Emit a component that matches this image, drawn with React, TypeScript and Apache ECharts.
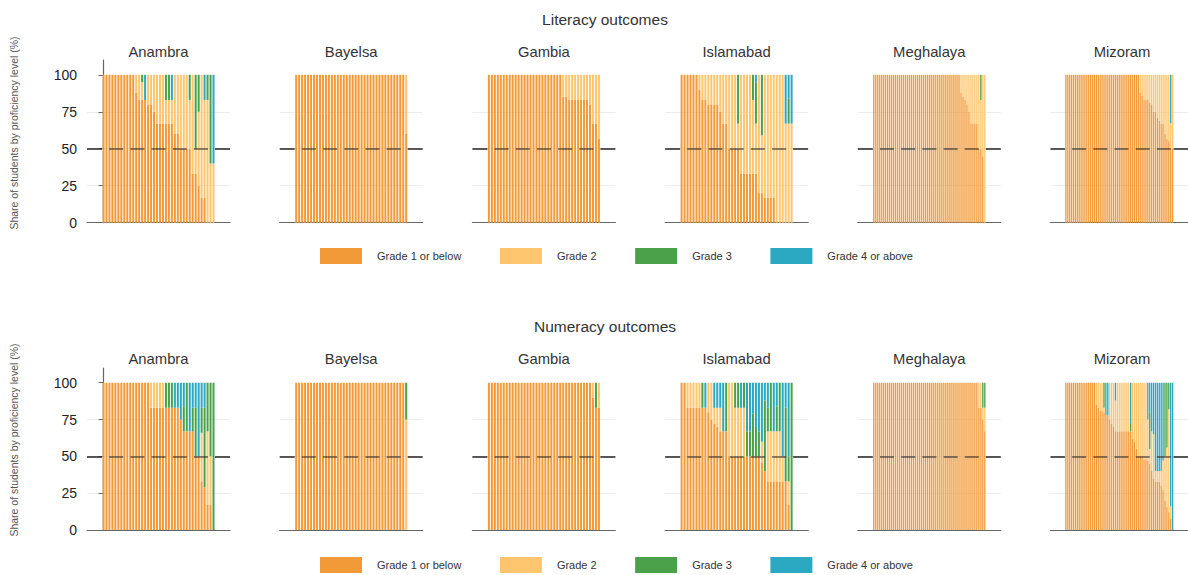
import React, { useEffect, useRef } from 'react';
import * as echarts from 'echarts';

// ---- labels, colours, scale ----
const GRADES = ['Grade 1 or below', 'Grade 2', 'Grade 3', 'Grade 4 or above'];
const GRADE_COLORS = ['#F29A38', '#FDC66E', '#4AA14A', '#2BA8C2'];
const REGIONS = ['Anambra', 'Bayelsa', 'Gambia', 'Islamabad', 'Meghalaya', 'Mizoram'];
const ROW_TITLES = ['Literacy outcomes', 'Numeracy outcomes'];
const Y_AXIS_TITLE = 'Share of students by proficiency level (%)';
const Y_TICKS = [0, 25, 50, 75, 100];
const THRESHOLD = 50;

// ---- literacy: share of students at each level, one value per school ----
const litAnambraG1 = [
  100, 100, 100, 100, 100, 100, 100, 100, 100, 100,
  100, 88, 83, 83, 83, 80, 80, 75, 67, 67,
  67, 67, 67, 67, 60, 60, 50, 50, 50, 50,
  33, 33, 25, 17, 17, 0, 0, 0];
const litAnambraG2 = [
  0, 0, 0, 0, 0, 0, 0, 0, 0, 0,
  0, 12, 17, 12, 0, 20, 20, 25, 33, 33,
  33, 16, 16, 16, 40, 40, 50, 50, 50, 33,
  67, 17, 50, 83, 66, 83, 40, 40];
const litAnambraG3 = [
  0, 0, 0, 0, 0, 0, 0, 0, 0, 0,
  0, 0, 0, 5, 0, 0, 0, 0, 0, 0,
  0, 17, 17, 0, 0, 0, 0, 0, 0, 17,
  0, 50, 25, 0, 0, 17, 60, 0];
const litAnambraG4 = [
  0, 0, 0, 0, 0, 0, 0, 0, 0, 0,
  0, 0, 0, 0, 17, 0, 0, 0, 0, 0,
  0, 0, 0, 17, 0, 0, 0, 0, 0, 0,
  0, 0, 0, 0, 17, 0, 0, 60];

const litBayelsaG1 = [
  100, 100, 100, 100, 100, 100, 100, 100, 100, 100,
  100, 100, 100, 100, 100, 100, 100, 100, 100, 100,
  100, 100, 100, 100, 100, 100, 100, 100, 100, 100,
  100, 100, 100, 100, 100, 100, 100, 60];
const litBayelsaG2 = [
  0, 0, 0, 0, 0, 0, 0, 0, 0, 0,
  0, 0, 0, 0, 0, 0, 0, 0, 0, 0,
  0, 0, 0, 0, 0, 0, 0, 0, 0, 0,
  0, 0, 0, 0, 0, 0, 0, 40];
const litBayelsaG3 = [
  0, 0, 0, 0, 0, 0, 0, 0, 0, 0,
  0, 0, 0, 0, 0, 0, 0, 0, 0, 0,
  0, 0, 0, 0, 0, 0, 0, 0, 0, 0,
  0, 0, 0, 0, 0, 0, 0, 0];
const litBayelsaG4 = [
  0, 0, 0, 0, 0, 0, 0, 0, 0, 0,
  0, 0, 0, 0, 0, 0, 0, 0, 0, 0,
  0, 0, 0, 0, 0, 0, 0, 0, 0, 0,
  0, 0, 0, 0, 0, 0, 0, 0];

const litGambiaG1 = [
  100, 100, 100, 100, 100, 100, 100, 100, 100, 100,
  100, 100, 100, 100, 100, 100, 100, 100, 100, 100,
  100, 100, 100, 100, 100, 85, 85, 83, 83, 83,
  83, 83, 83, 83, 80, 67, 67, 57];
const litGambiaG2 = [
  0, 0, 0, 0, 0, 0, 0, 0, 0, 0,
  0, 0, 0, 0, 0, 0, 0, 0, 0, 0,
  0, 0, 0, 0, 0, 15, 15, 17, 17, 17,
  17, 17, 17, 17, 20, 33, 33, 43];
const litGambiaG3 = [
  0, 0, 0, 0, 0, 0, 0, 0, 0, 0,
  0, 0, 0, 0, 0, 0, 0, 0, 0, 0,
  0, 0, 0, 0, 0, 0, 0, 0, 0, 0,
  0, 0, 0, 0, 0, 0, 0, 0];
const litGambiaG4 = [
  0, 0, 0, 0, 0, 0, 0, 0, 0, 0,
  0, 0, 0, 0, 0, 0, 0, 0, 0, 0,
  0, 0, 0, 0, 0, 0, 0, 0, 0, 0,
  0, 0, 0, 0, 0, 0, 0, 0];

const litIslamabadG1 = [
  100, 100, 100, 100, 100, 100, 90, 83, 83, 80,
  80, 80, 80, 75, 67, 67, 50, 50, 50, 50,
  33, 33, 33, 33, 33, 33, 20, 20, 17, 17,
  17, 17, 0, 0, 0, 0, 0, 0];
const litIslamabadG2 = [
  0, 0, 0, 0, 0, 0, 10, 17, 17, 20,
  20, 20, 20, 25, 33, 33, 50, 50, 50, 17,
  67, 67, 67, 67, 50, 34, 80, 39, 83, 83,
  83, 83, 100, 100, 100, 67, 67, 67];
const litIslamabadG3 = [
  0, 0, 0, 0, 0, 0, 0, 0, 0, 0,
  0, 0, 0, 0, 0, 0, 0, 0, 0, 33,
  0, 0, 0, 0, 17, 28, 0, 41, 0, 0,
  0, 0, 0, 0, 0, 0, 17, 0];
const litIslamabadG4 = [
  0, 0, 0, 0, 0, 0, 0, 0, 0, 0,
  0, 0, 0, 0, 0, 0, 0, 0, 0, 0,
  0, 0, 0, 0, 0, 5, 0, 0, 0, 0,
  0, 0, 0, 0, 0, 33, 16, 33];

const litMeghalayaG1 = [
  100, 100, 100, 100, 100, 100, 100, 100, 100, 100,
  100, 100, 100, 100, 100, 100, 100, 100, 100, 100,
  100, 100, 100, 100, 100, 100, 100, 100, 100, 100,
  100, 100, 100, 100, 100, 100, 100, 100, 100, 100,
  100, 100, 100, 100, 88, 85, 83, 80, 75, 67,
  67, 67, 67, 50, 50, 45, 0];
const litMeghalayaG2 = [
  0, 0, 0, 0, 0, 0, 0, 0, 0, 0,
  0, 0, 0, 0, 0, 0, 0, 0, 0, 0,
  0, 0, 0, 0, 0, 0, 0, 0, 0, 0,
  0, 0, 0, 0, 0, 0, 0, 0, 0, 0,
  0, 0, 0, 0, 12, 15, 17, 20, 25, 33,
  33, 33, 33, 50, 33, 55, 100];
const litMeghalayaG3 = [
  0, 0, 0, 0, 0, 0, 0, 0, 0, 0,
  0, 0, 0, 0, 0, 0, 0, 0, 0, 0,
  0, 0, 0, 0, 0, 0, 0, 0, 0, 0,
  0, 0, 0, 0, 0, 0, 0, 0, 0, 0,
  0, 0, 0, 0, 0, 0, 0, 0, 0, 0,
  0, 0, 0, 0, 17, 0, 0];
const litMeghalayaG4 = [
  0, 0, 0, 0, 0, 0, 0, 0, 0, 0,
  0, 0, 0, 0, 0, 0, 0, 0, 0, 0,
  0, 0, 0, 0, 0, 0, 0, 0, 0, 0,
  0, 0, 0, 0, 0, 0, 0, 0, 0, 0,
  0, 0, 0, 0, 0, 0, 0, 0, 0, 0,
  0, 0, 0, 0, 0, 0, 0];

const litMizoramG1 = [
  100, 100, 100, 100, 100, 100, 100, 100, 100, 100,
  100, 100, 100, 100, 100, 100, 100, 100, 100, 100,
  100, 100, 100, 100, 100, 100, 100, 100, 100, 100,
  100, 100, 100, 100, 100, 100, 100, 100, 100, 88,
  86, 83, 83, 83, 81, 80, 75, 75, 71, 69,
  67, 67, 60, 57, 55, 50, 50];
const litMizoramG2 = [
  0, 0, 0, 0, 0, 0, 0, 0, 0, 0,
  0, 0, 0, 0, 0, 0, 0, 0, 0, 0,
  0, 0, 0, 0, 0, 0, 0, 0, 0, 0,
  0, 0, 0, 0, 0, 0, 0, 0, 0, 12,
  14, 17, 17, 17, 19, 20, 25, 25, 29, 31,
  33, 33, 40, 43, 45, 17, 50];
const litMizoramG3 = [
  0, 0, 0, 0, 0, 0, 0, 0, 0, 0,
  0, 0, 0, 0, 0, 0, 0, 0, 0, 0,
  0, 0, 0, 0, 0, 0, 0, 0, 0, 0,
  0, 0, 0, 0, 0, 0, 0, 0, 0, 0,
  0, 0, 0, 0, 0, 0, 0, 0, 0, 0,
  0, 0, 0, 0, 0, 0, 0];
const litMizoramG4 = [
  0, 0, 0, 0, 0, 0, 0, 0, 0, 0,
  0, 0, 0, 0, 0, 0, 0, 0, 0, 0,
  0, 0, 0, 0, 0, 0, 0, 0, 0, 0,
  0, 0, 0, 0, 0, 0, 0, 0, 0, 0,
  0, 0, 0, 0, 0, 0, 0, 0, 0, 0,
  0, 0, 0, 0, 0, 33, 0];

// ---- numeracy ----
const numAnambraG1 = [
  100, 100, 100, 100, 100, 100, 100, 100, 100, 100,
  100, 100, 100, 100, 100, 100, 83, 83, 83, 83,
  83, 83, 83, 83, 83, 83, 75, 67, 67, 67,
  67, 50, 50, 33, 29, 17, 17, 0];
const numAnambraG2 = [
  0, 0, 0, 0, 0, 0, 0, 0, 0, 0,
  0, 0, 0, 0, 0, 0, 17, 17, 17, 17,
  17, 0, 0, 0, 0, 0, 0, 0, 0, 0,
  0, 0, 0, 33, 0, 50, 33, 0];
const numAnambraG3 = [
  0, 0, 0, 0, 0, 0, 0, 0, 0, 0,
  0, 0, 0, 0, 0, 0, 0, 0, 0, 0,
  0, 17, 17, 17, 0, 0, 0, 17, 33, 0,
  16, 33, 0, 17, 54, 33, 50, 100];
const numAnambraG4 = [
  0, 0, 0, 0, 0, 0, 0, 0, 0, 0,
  0, 0, 0, 0, 0, 0, 0, 0, 0, 0,
  0, 0, 0, 0, 17, 17, 25, 16, 0, 33,
  17, 17, 50, 17, 17, 0, 0, 0];

const numBayelsaG1 = [
  100, 100, 100, 100, 100, 100, 100, 100, 100, 100,
  100, 100, 100, 100, 100, 100, 100, 100, 100, 100,
  100, 100, 100, 100, 100, 100, 100, 100, 100, 100,
  100, 100, 100, 100, 100, 100, 100, 0];
const numBayelsaG2 = [
  0, 0, 0, 0, 0, 0, 0, 0, 0, 0,
  0, 0, 0, 0, 0, 0, 0, 0, 0, 0,
  0, 0, 0, 0, 0, 0, 0, 0, 0, 0,
  0, 0, 0, 0, 0, 0, 0, 75];
const numBayelsaG3 = [
  0, 0, 0, 0, 0, 0, 0, 0, 0, 0,
  0, 0, 0, 0, 0, 0, 0, 0, 0, 0,
  0, 0, 0, 0, 0, 0, 0, 0, 0, 0,
  0, 0, 0, 0, 0, 0, 0, 25];
const numBayelsaG4 = [
  0, 0, 0, 0, 0, 0, 0, 0, 0, 0,
  0, 0, 0, 0, 0, 0, 0, 0, 0, 0,
  0, 0, 0, 0, 0, 0, 0, 0, 0, 0,
  0, 0, 0, 0, 0, 0, 0, 0];

const numGambiaG1 = [
  100, 100, 100, 100, 100, 100, 100, 100, 100, 100,
  100, 100, 100, 100, 100, 100, 100, 100, 100, 100,
  100, 100, 100, 100, 100, 100, 100, 100, 100, 100,
  100, 100, 100, 100, 100, 90, 83, 83];
const numGambiaG2 = [
  0, 0, 0, 0, 0, 0, 0, 0, 0, 0,
  0, 0, 0, 0, 0, 0, 0, 0, 0, 0,
  0, 0, 0, 0, 0, 0, 0, 0, 0, 0,
  0, 0, 0, 0, 0, 10, 0, 17];
const numGambiaG3 = [
  0, 0, 0, 0, 0, 0, 0, 0, 0, 0,
  0, 0, 0, 0, 0, 0, 0, 0, 0, 0,
  0, 0, 0, 0, 0, 0, 0, 0, 0, 0,
  0, 0, 0, 0, 0, 0, 17, 0];
const numGambiaG4 = [
  0, 0, 0, 0, 0, 0, 0, 0, 0, 0,
  0, 0, 0, 0, 0, 0, 0, 0, 0, 0,
  0, 0, 0, 0, 0, 0, 0, 0, 0, 0,
  0, 0, 0, 0, 0, 0, 0, 0];

const numIslamabadG1 = [
  100, 100, 83, 83, 83, 83, 83, 83, 83, 80,
  75, 72, 70, 67, 67, 67, 50, 50, 50, 50,
  50, 50, 50, 50, 50, 50, 50, 46, 40, 33,
  33, 33, 33, 33, 33, 33, 17, 0];
const numIslamabadG2 = [
  0, 0, 17, 17, 17, 17, 17, 0, 0, 20,
  25, 11, 13, 16, 0, 0, 50, 50, 33, 33,
  33, 33, 0, 0, 0, 0, 0, 14, 0, 34,
  34, 34, 34, 34, 17, 0, 16, 0];
const numIslamabadG3 = [
  0, 0, 0, 0, 0, 0, 0, 17, 0, 0,
  0, 0, 0, 0, 0, 33, 0, 0, 17, 17,
  0, 17, 17, 17, 29, 20, 17, 0, 48, 16,
  33, 0, 17, 33, 0, 50, 17, 100];
const numIslamabadG4 = [
  0, 0, 0, 0, 0, 0, 0, 0, 17, 0,
  0, 17, 17, 17, 33, 0, 0, 0, 0, 0,
  17, 0, 33, 33, 21, 30, 33, 40, 12, 17,
  0, 33, 16, 0, 50, 17, 50, 0];

const numMeghalayaG1 = [
  100, 100, 100, 100, 100, 100, 100, 100, 100, 100,
  100, 100, 100, 100, 100, 100, 100, 100, 100, 100,
  100, 100, 100, 100, 100, 100, 100, 100, 100, 100,
  100, 100, 100, 100, 100, 100, 100, 100, 100, 100,
  100, 100, 100, 100, 100, 100, 100, 100, 100, 100,
  100, 100, 100, 83, 83, 75, 67];
const numMeghalayaG2 = [
  0, 0, 0, 0, 0, 0, 0, 0, 0, 0,
  0, 0, 0, 0, 0, 0, 0, 0, 0, 0,
  0, 0, 0, 0, 0, 0, 0, 0, 0, 0,
  0, 0, 0, 0, 0, 0, 0, 0, 0, 0,
  0, 0, 0, 0, 0, 0, 0, 0, 0, 0,
  0, 0, 0, 17, 17, 8, 16];
const numMeghalayaG3 = [
  0, 0, 0, 0, 0, 0, 0, 0, 0, 0,
  0, 0, 0, 0, 0, 0, 0, 0, 0, 0,
  0, 0, 0, 0, 0, 0, 0, 0, 0, 0,
  0, 0, 0, 0, 0, 0, 0, 0, 0, 0,
  0, 0, 0, 0, 0, 0, 0, 0, 0, 0,
  0, 0, 0, 0, 0, 17, 17];
const numMeghalayaG4 = [
  0, 0, 0, 0, 0, 0, 0, 0, 0, 0,
  0, 0, 0, 0, 0, 0, 0, 0, 0, 0,
  0, 0, 0, 0, 0, 0, 0, 0, 0, 0,
  0, 0, 0, 0, 0, 0, 0, 0, 0, 0,
  0, 0, 0, 0, 0, 0, 0, 0, 0, 0,
  0, 0, 0, 0, 0, 0, 0];

const numMizoramG1 = [
  100, 100, 100, 100, 100, 100, 100, 100, 100, 100,
  100, 100, 100, 100, 100, 100, 85, 83, 81, 81,
  80, 78, 78, 75, 72, 70, 67, 67, 67, 67,
  67, 67, 67, 67, 67, 62, 60, 55, 50, 50,
  50, 48, 48, 47, 45, 40, 35, 33, 33, 33,
  30, 27, 20, 16, 12, 8, 0];
const numMizoramG2 = [
  0, 0, 0, 0, 0, 0, 0, 0, 0, 0,
  0, 0, 0, 0, 0, 0, 15, 17, 19, 19,
  3, 0, 0, 25, 28, 30, 21, 33, 33, 33,
  33, 33, 33, 33, 0, 38, 40, 45, 50, 50,
  50, 52, 52, 28, 10, 27, 30, 7, 7, 7,
  10, 20, 30, 40, 70, 8, 0];
const numMizoramG3 = [
  0, 0, 0, 0, 0, 0, 0, 0, 0, 0,
  0, 0, 0, 0, 0, 0, 0, 0, 0, 0,
  17, 0, 0, 0, 0, 0, 0, 0, 0, 0,
  0, 0, 0, 0, 5, 0, 0, 0, 0, 0,
  0, 0, 0, 0, 25, 0, 0, 0, 0, 0,
  0, 0, 50, 44, 18, 0, 0];
const numMizoramG4 = [
  0, 0, 0, 0, 0, 0, 0, 0, 0, 0,
  0, 0, 0, 0, 0, 0, 0, 0, 0, 0,
  0, 22, 22, 0, 0, 0, 12, 0, 0, 0,
  0, 0, 0, 0, 28, 0, 0, 0, 0, 0,
  0, 0, 0, 25, 20, 33, 35, 60, 60, 60,
  60, 53, 0, 0, 0, 84, 100];

type Panel = number[][];
const literacyPanels: Panel[] = [
  [litAnambraG1, litAnambraG2, litAnambraG3, litAnambraG4],
  [litBayelsaG1, litBayelsaG2, litBayelsaG3, litBayelsaG4],
  [litGambiaG1, litGambiaG2, litGambiaG3, litGambiaG4],
  [litIslamabadG1, litIslamabadG2, litIslamabadG3, litIslamabadG4],
  [litMeghalayaG1, litMeghalayaG2, litMeghalayaG3, litMeghalayaG4],
  [litMizoramG1, litMizoramG2, litMizoramG3, litMizoramG4],
];
const numeracyPanels: Panel[] = [
  [numAnambraG1, numAnambraG2, numAnambraG3, numAnambraG4],
  [numBayelsaG1, numBayelsaG2, numBayelsaG3, numBayelsaG4],
  [numGambiaG1, numGambiaG2, numGambiaG3, numGambiaG4],
  [numIslamabadG1, numIslamabadG2, numIslamabadG3, numIslamabadG4],
  [numMeghalayaG1, numMeghalayaG2, numMeghalayaG3, numMeghalayaG4],
  [numMizoramG1, numMizoramG2, numMizoramG3, numMizoramG4],
];

// ---- layout ----
const FONT = "'Liberation Sans', Arial, Helvetica, sans-serif";
const ROW_TOP = [60, 368];
const ROW_HEIGHT = [162.7, 162];
const ROW_TITLE_Y = [19, 326];
const PANEL_TITLE_Y = [52, 359];
const LEGEND_TOP = [248, 557];
const Y_TITLE_Y = [133, 440];
const Y_MAX = 110;
const PANEL_LEFT = 87;
const PANEL_STEP = 192.7;
const PANEL_WIDTH = 143;
const BAR_INSET = 15;

function buildOption() {
  const grid: any[] = [];
  const xAxis: any[] = [];
  const yAxis: any[] = [];
  const series: any[] = [];
  const graphic: any[] = [];

  const text = (x: number, y: number, t: string, size: number, color: string, rotation = 0) => ({
    type: 'text',
    x,
    y,
    rotation,
    silent: true,
    style: {
      text: t,
      fontSize: size,
      fontFamily: FONT,
      fill: color,
      textAlign: 'center',
      textVerticalAlign: 'middle',
      align: 'center',
      verticalAlign: 'middle',
    },
  });

  [literacyPanels, numeracyPanels].forEach((panels, r) => {
    graphic.push(text(605, ROW_TITLE_Y[r], ROW_TITLES[r], 15.5, '#333'));
    graphic.push(text(14, Y_TITLE_Y[r], Y_AXIS_TITLE, 10.5, '#555', Math.PI / 2));

    panels.forEach((panel, c) => {
      const g = r * REGIONS.length + c;
      const n = panel[0].length;
      const pitch = (PANEL_WIDTH - 2 * BAR_INSET) / n;
      const pad = BAR_INSET / pitch;
      const xMin = -0.5 - pad;
      const xMax = n - 0.5 + pad;
      const left = PANEL_LEFT + PANEL_STEP * c;

      graphic.push(text(left + PANEL_WIDTH / 2, PANEL_TITLE_Y[r], REGIONS[c], 14.8, '#333'));

      grid.push({ left, top: ROW_TOP[r], width: PANEL_WIDTH, height: ROW_HEIGHT[r] });
      xAxis.push({
        gridIndex: g,
        type: 'value',
        min: xMin,
        max: xMax,
        axisLine: { show: true, onZero: false, lineStyle: { color: '#666', width: 1.2 } },
        axisTick: { show: false },
        axisLabel: { show: false },
        splitLine: { show: false },
      });
      yAxis.push({
        gridIndex: g,
        type: 'value',
        min: 0,
        max: Y_MAX,
        interval: 25,
        axisLine: { show: c === 0, lineStyle: { color: '#666', width: 1.2 } },
        axisTick: { show: c === 0, length: 5, customValues: Y_TICKS, lineStyle: { color: '#666' } },
        axisLabel: {
          show: c === 0,
          customValues: Y_TICKS,
          fontSize: 14,
          color: '#222',
          margin: 10,
          fontFamily: FONT,
        },
        splitLine: { show: true, showMinLine: false, showMaxLine: false, lineStyle: { color: '#ededed', width: 1 } },
      });

      panel.forEach((vals, k) => {
        const s: any = {
          type: 'bar',
          name: GRADES[k],
          xAxisIndex: g,
          yAxisIndex: g,
          stack: 'panel' + g,
          barWidth: pitch * 0.68,
          silent: true,
          itemStyle: { color: GRADE_COLORS[k] },
          emphasis: { disabled: true },
          // value first so the stacked dimension is the share, school index second
          encode: { x: 1, y: 0 },
          data: vals.map((v, i) => [v, i]),
        };
        if (k === 0) {
          // solid 50% reference line outside the bar block
          s.markLine = {
            silent: true,
            symbol: ['none', 'none'],
            label: { show: false },
            lineStyle: { type: 'solid', color: '#222', width: 1.5 },
            data: [
              [{ coord: [xMin, THRESHOLD] }, { coord: [-0.5, THRESHOLD] }],
              [{ coord: [n - 0.5, THRESHOLD] }, { coord: [xMax, THRESHOLD] }],
            ],
          };
        }
        if (k === GRADES.length - 1) {
          // dashed 50% reference line drawn over the bars
          s.markLine = {
            silent: true,
            symbol: ['none', 'none'],
            label: { show: false },
            lineStyle: { type: [14, 7.2], dashOffset: 14, color: '#222', opacity: 0.7, width: 1.5 },
            data: [[{ coord: [-0.5, THRESHOLD] }, { coord: [n - 0.5, THRESHOLD] }]],
          };
        }
        series.push(s);
      });
    });
  });

  const legend = LEGEND_TOP.map((top) => ({
    top,
    left: 320,
    padding: 0,
    orient: 'horizontal',
    icon: 'rect',
    itemWidth: 42,
    itemHeight: 16,
    itemGap: 38.5,
    selectedMode: false,
    data: GRADES,
    textStyle: { fontSize: 11, color: '#333', fontFamily: FONT, padding: [0, 0, 0, 10] },
  }));

  return {
    animation: false,
    backgroundColor: '#ffffff',
    textStyle: { fontFamily: FONT },
    grid,
    xAxis,
    yAxis,
    legend,
    graphic,
    series,
  };
}

export default function App() {
  const ref = useRef<HTMLDivElement>(null);
  useEffect(() => {
    if (!ref.current) return;
    const chart = echarts.init(ref.current, undefined, { renderer: 'svg' });
    chart.setOption(buildOption() as any);
    return () => chart.dispose();
  }, []);
  return (
    <div
      ref={ref}
      style={{ position: 'absolute', left: 0, top: 0, width: 1188, height: 575, background: '#fff' }}
    />
  );
}
